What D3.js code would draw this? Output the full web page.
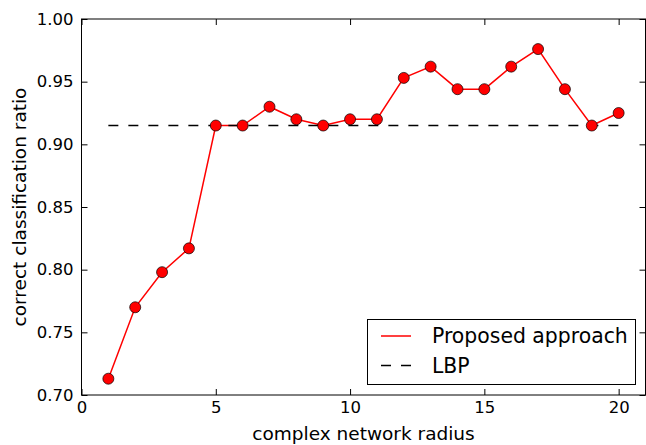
<!DOCTYPE html>
<meta charset="utf-8">
<style>
  body { margin: 0; background: #fff; }
  svg { display: block; }
  text { font-family: "DejaVu Sans", sans-serif; fill: #000; }
</style>
<body>
<script src="https://d3js.org/d3.v7.min.js"></script>
<script>
// radius values and ratios
var radius = [1, 2, 3, 4, 5, 6, 7, 8, 9, 10, 11, 12, 13, 14, 15, 16, 17, 18, 19, 20];
var proposed = [0.713, 0.770, 0.798, 0.817, 0.915, 0.915, 0.930, 0.920, 0.915, 0.920,
                0.920, 0.953, 0.962, 0.944, 0.944, 0.962, 0.976, 0.944, 0.915, 0.925];
var lbpX = [1, 20];
var lbpY = [0.915, 0.915];
var xTicks = [0, 5, 10, 15, 20];
var yTicks = [0.70, 0.75, 0.80, 0.85, 0.90, 0.95, 1.00];
var legendLabels = ["Proposed approach", "LBP"];

var width = 646, height = 445;
var margin = {top: 19, right: 0.5, bottom: 50, left: 81.5};

var svg = d3.select("body").append("svg")
  .attr("width", width)
  .attr("height", height);

var x = d3.scaleLinear().domain([0, 21]).range([margin.left, width - margin.right]);
var y = d3.scaleLinear().domain([0.70, 1.00]).range([height - margin.bottom, margin.top]);

var tickLen = 6;

// bottom axis, ticks pointing inward
svg.append("g")
  .attr("transform", "translate(0," + y(0.70) + ")")
  .call(d3.axisBottom(x).tickValues(xTicks).tickSizeInner(-tickLen).tickSizeOuter(0)
    .tickPadding(6.5).tickFormat(d3.format("d")));
// top ticks
svg.append("g")
  .attr("transform", "translate(0," + y(1.00) + ")")
  .call(d3.axisTop(x).tickValues(xTicks).tickSizeInner(-tickLen).tickSizeOuter(0).tickFormat(""));

svg.append("g")
  .attr("transform", "translate(" + x(0) + ",0)")
  .call(d3.axisLeft(y).tickValues(yTicks).tickSizeInner(-tickLen).tickSizeOuter(0)
    .tickPadding(8).tickFormat(d3.format(".2f")));
// right ticks
svg.append("g")
  .attr("transform", "translate(" + x(21) + ",0)")
  .call(d3.axisRight(y).tickValues(yTicks).tickSizeInner(-tickLen).tickSizeOuter(0).tickFormat(""));

svg.selectAll(".domain").remove();
svg.selectAll(".tick line").attr("stroke", "#000").attr("stroke-width", 1);
svg.selectAll(".tick text").style("font-size", "16.5px").attr("fill", "#000");

// frame
svg.append("rect")
  .attr("x", x(0)).attr("y", y(1.00))
  .attr("width", x(21) - x(0)).attr("height", y(0.70) - y(1.00))
  .attr("fill", "none").attr("stroke", "#000").attr("stroke-width", 1);

var line = d3.line()
  .x(function(d){ return x(d[0]); })
  .y(function(d){ return y(d[1]); });

var pts = radius.map(function(r, i){ return [r, proposed[i]]; });

svg.append("path")
  .datum(pts)
  .attr("d", line)
  .attr("fill", "none")
  .attr("stroke", "#ff0000")
  .attr("stroke-width", 1.5);

svg.append("path")
  .datum(lbpX.map(function(v, i){ return [v, lbpY[i]]; }))
  .attr("d", line)
  .attr("fill", "none")
  .attr("stroke", "#000")
  .attr("stroke-width", 1.5)
  .attr("stroke-dasharray", "10,10");

svg.selectAll("circle.pt")
  .data(pts)
  .enter().append("circle")
  .attr("class", "pt")
  .attr("cx", function(d){ return x(d[0]); })
  .attr("cy", function(d){ return y(d[1]); })
  .attr("r", 5.5)
  .attr("fill", "#ff0000")
  .attr("stroke", "#000")
  .attr("stroke-width", 0.7);

// axis labels
svg.append("text")
  .attr("x", (x(0) + x(21)) / 2)
  .attr("y", 440)
  .attr("text-anchor", "middle")
  .style("font-size", "18.5px")
  .text("complex network radius");

svg.append("text")
  .attr("transform", "translate(26," + (y(0.70) + y(1.00)) / 2 + ") rotate(-90)")
  .attr("text-anchor", "middle")
  .style("font-size", "18.5px")
  .text("correct classification ratio");

// legend
var lg = svg.append("g");
lg.append("rect")
  .attr("x", 367.5).attr("y", 319.5)
  .attr("width", 268).attr("height", 65)
  .attr("fill", "#fff").attr("stroke", "#000").attr("stroke-width", 1);

var rows = lg.selectAll("g.row")
  .data(legendLabels)
  .enter().append("g")
  .attr("transform", function(d, i){ return "translate(0," + (336 + i * 29.5) + ")"; });

rows.append("line")
  .attr("x1", 381).attr("x2", 411)
  .attr("y1", 0).attr("y2", 0)
  .attr("stroke", function(d, i){ return i === 0 ? "#ff0000" : "#000"; })
  .attr("stroke-width", 1.5)
  .attr("stroke-dasharray", function(d, i){ return i === 0 ? null : "10,10"; });

rows.append("text")
  .attr("x", 432)
  .attr("y", 7)
  .style("font-size", "20.4px")
  .text(function(d){ return d; });
</script>
</body>
